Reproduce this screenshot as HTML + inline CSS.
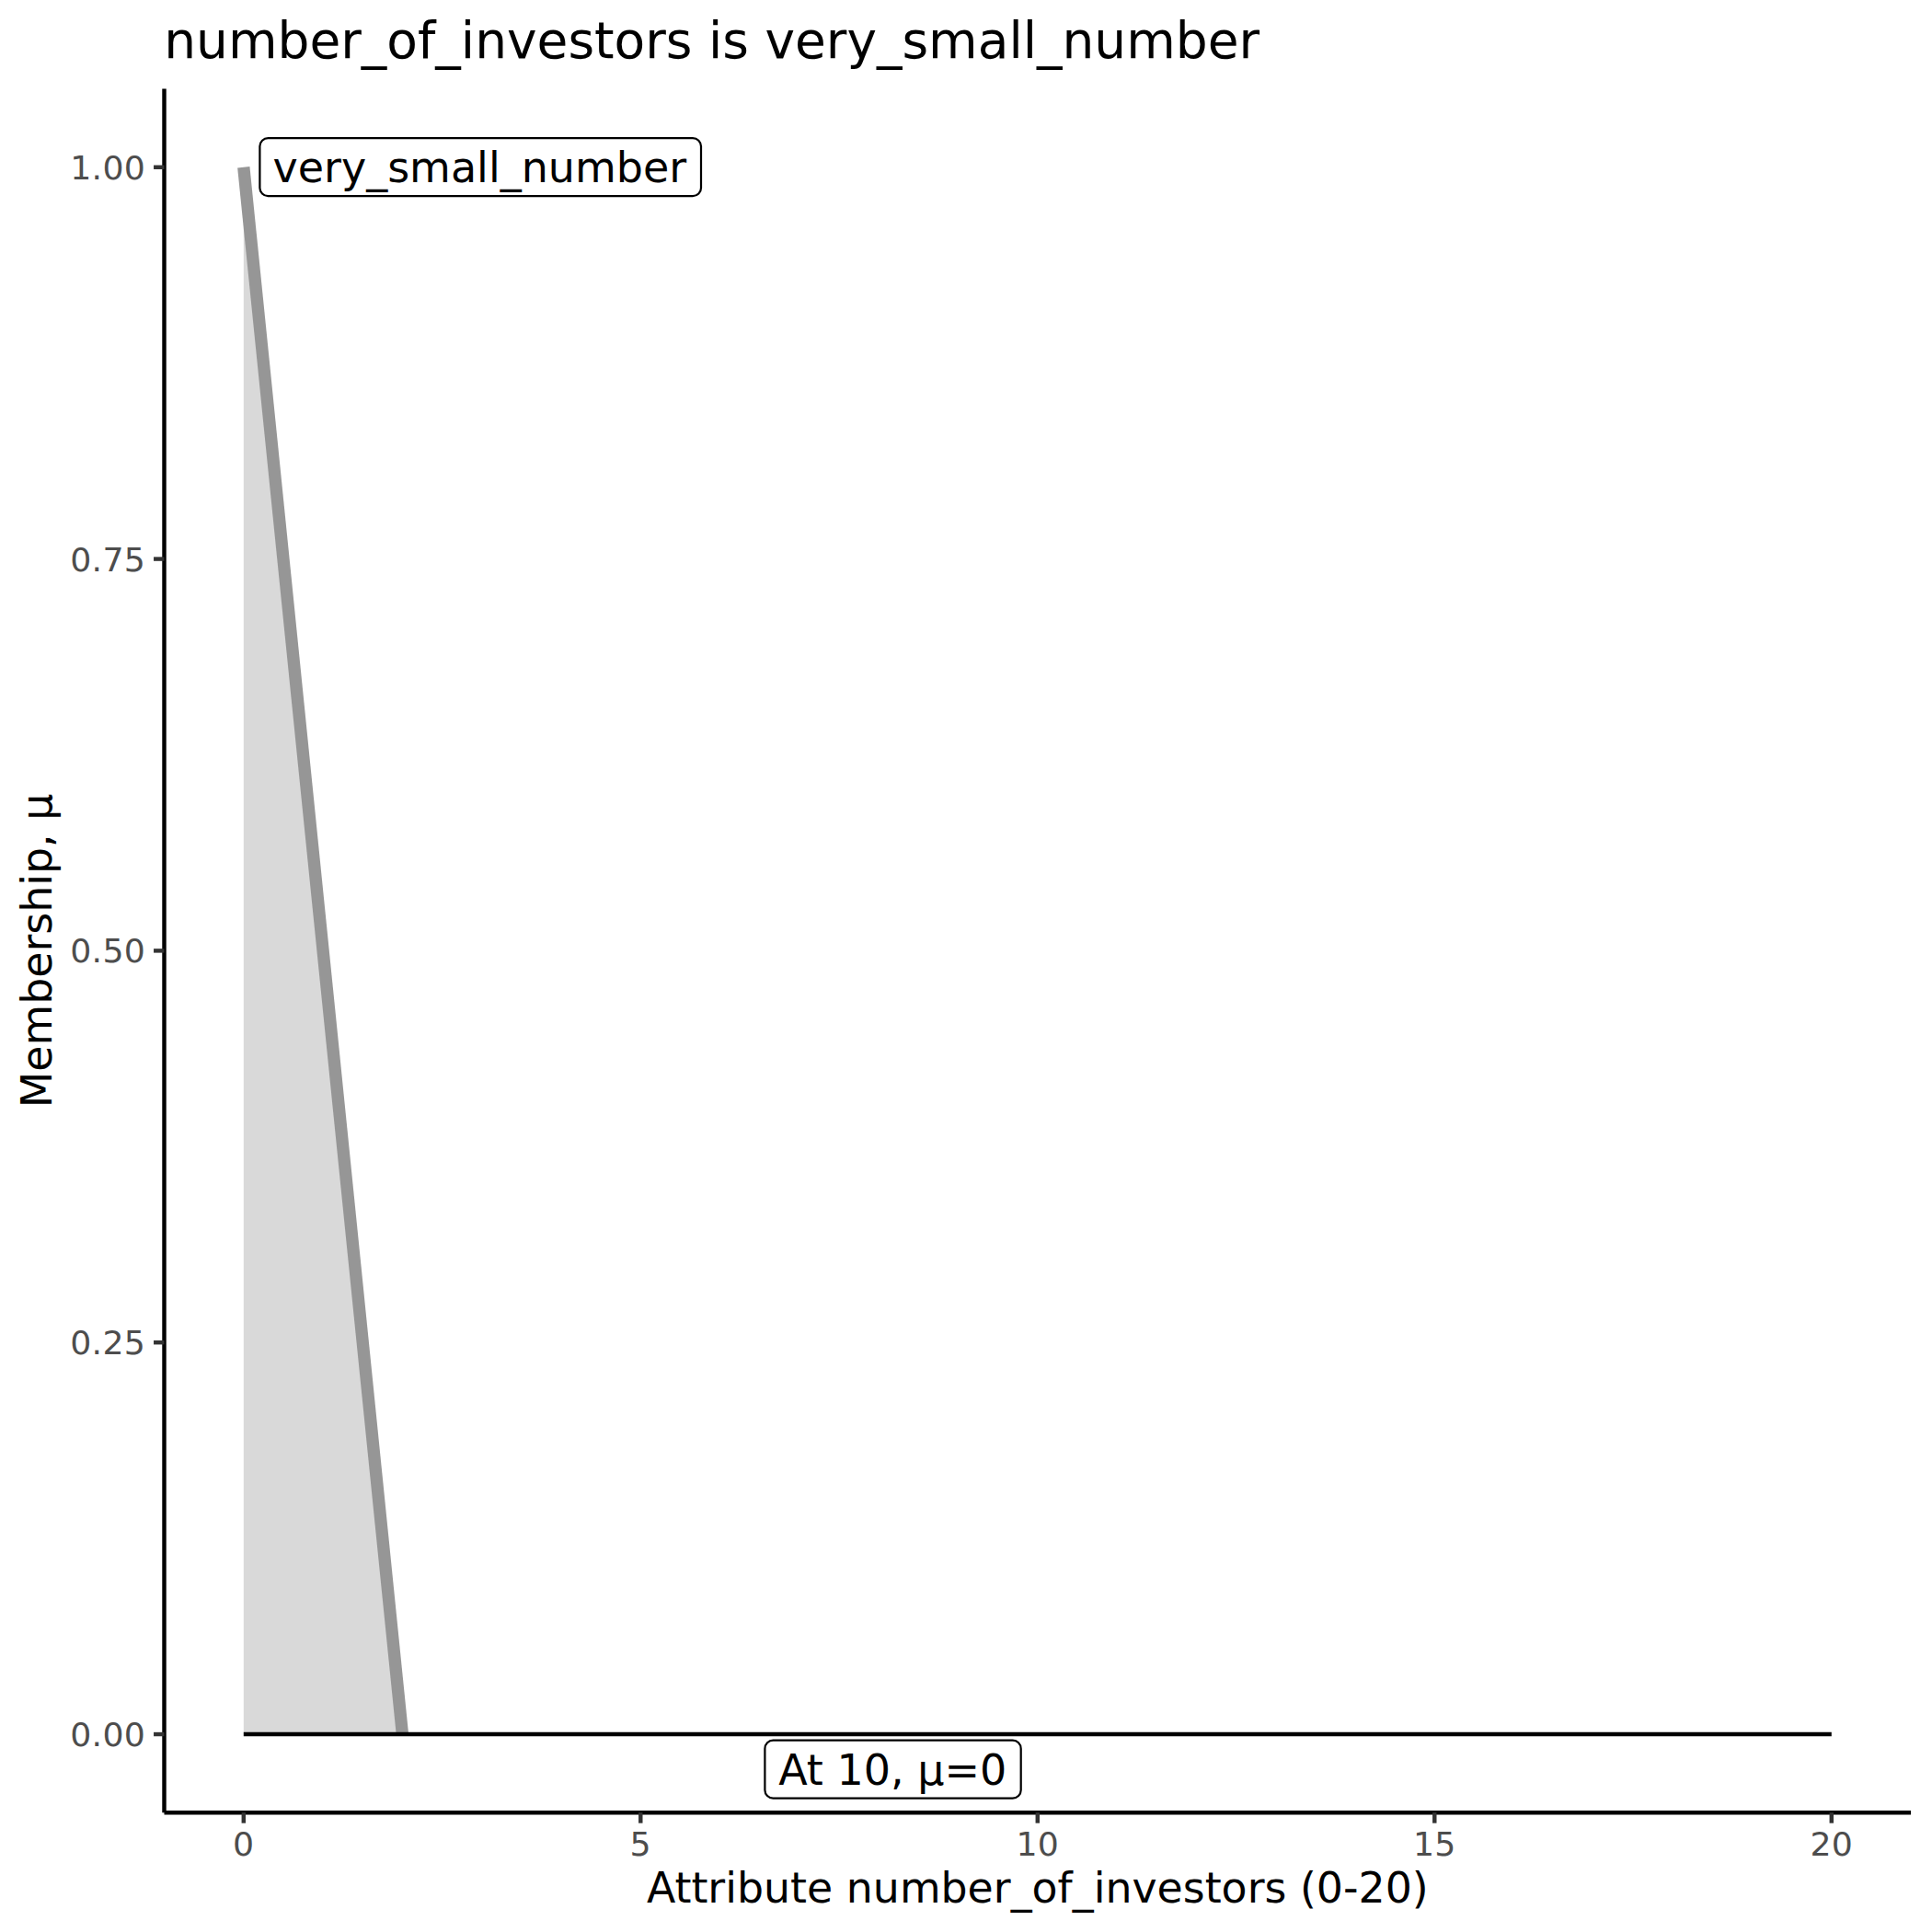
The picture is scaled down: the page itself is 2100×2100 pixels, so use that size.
<!DOCTYPE html>
<html lang="en">
<head>
<meta charset="utf-8">
<title>number_of_investors is very_small_number</title>
<style>
html,body{margin:0;padding:0;background:#fff;}
body{width:2100px;height:2100px;overflow:hidden;}
svg{display:block;}
text{font-family:"DejaVu Sans","Liberation Sans",sans-serif;}
.t{font-size:55px;fill:#000;}
.l{font-size:45.83px;fill:#000;}
.g{font-size:46px;fill:#000;}
.a{font-size:36.3px;fill:#4D4D4D;letter-spacing:0.3px;}
</style>
</head>
<body>
<svg width="2100" height="2100" viewBox="0 0 2100 2100">
<rect width="2100" height="2100" fill="#fff"/>
<!-- membership area + line -->
<polygon points="264.8,1885.04 264.8,181.76 437.4,1885.04" fill="#D9D9D9"/>
<line x1="264.8" y1="181.76" x2="437.4" y2="1885.04" stroke="#969696" stroke-width="13.34"/>
<line x1="264.8" y1="1885.04" x2="1990.78" y2="1885.04" stroke="#000" stroke-width="4.44"/>
<!-- labels -->
<rect x="282.4" y="150.1" width="479.6" height="63.1" rx="9" ry="9" fill="#fff" stroke="#000" stroke-width="2.22"/>
<text class="g" x="296.5" y="198">very_small_number</text>
<rect x="831.4" y="1891.7" width="278.3" height="63" rx="9" ry="9" fill="#fff" stroke="#000" stroke-width="2.22"/>
<text class="g" x="846.2" y="1940">At 10, μ=0</text>
<!-- axes -->
<line x1="178.5" y1="96.6" x2="178.5" y2="1970.2" stroke="#000" stroke-width="4.44"/>
<line x1="178.5" y1="1970.2" x2="2077.08" y2="1970.2" stroke="#000" stroke-width="4.44"/>
<g stroke="#333333" stroke-width="4.44">
<line x1="167.04" y1="1885.04" x2="178.5" y2="1885.04"/>
<line x1="167.04" y1="1459.22" x2="178.5" y2="1459.22"/>
<line x1="167.04" y1="1033.4" x2="178.5" y2="1033.4"/>
<line x1="167.04" y1="607.58" x2="178.5" y2="607.58"/>
<line x1="167.04" y1="181.76" x2="178.5" y2="181.76"/>
<line x1="264.8" y1="1970.2" x2="264.8" y2="1981.66"/>
<line x1="696.29" y1="1970.2" x2="696.29" y2="1981.66"/>
<line x1="1127.79" y1="1970.2" x2="1127.79" y2="1981.66"/>
<line x1="1559.29" y1="1970.2" x2="1559.29" y2="1981.66"/>
<line x1="1990.78" y1="1970.2" x2="1990.78" y2="1981.66"/>
</g>
<g class="a" text-anchor="end">
<text x="158.2" y="1898">0.00</text>
<text x="158.2" y="1472">0.25</text>
<text x="158.2" y="1046">0.50</text>
<text x="158.2" y="621">0.75</text>
<text x="158.2" y="195">1.00</text>
</g>
<g class="a" text-anchor="middle">
<text x="264.8" y="2017">0</text>
<text x="696.29" y="2017">5</text>
<text x="1127.79" y="2017">10</text>
<text x="1559.29" y="2017">15</text>
<text x="1990.78" y="2017">20</text>
</g>
<text class="l" x="1127.79" y="2068" text-anchor="middle">Attribute number_of_investors (0-20)</text>
<text class="l" transform="translate(56,1033.4) rotate(-90)" text-anchor="middle">Membership, μ</text>
<text class="t" x="178.2" y="63">number_of_investors is very_small_number</text>
</svg>
</body>
</html>
